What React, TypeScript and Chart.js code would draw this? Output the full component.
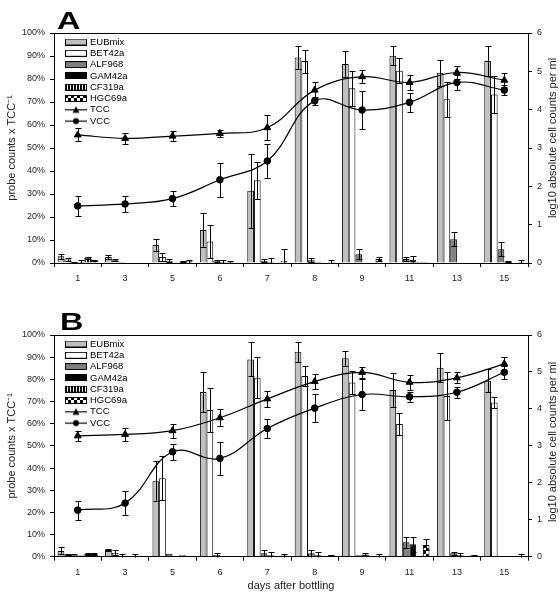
import React, { useEffect, useRef } from 'react';
import { Chart, registerables } from 'chart.js';

Chart.register(...registerables);

const FONT = '"Liberation Sans", Arial, sans-serif';

const days = ['1', '3', '5', '6', '7', '8', '9', '11', '13', '15'];
const probeNames = ['EUBmix', 'BET42a', 'ALF968', 'GAM42a', 'CF319a', 'HGC69a'];
const lineNames = ['TCC', 'VCC'];

// ---- Panel A: probe counts (% of TCC) ----
const aEUB = [2.9, 2.6, 7.8, 14.3, 31.4, 89.4, 86.5, 90.1, 82.7, 87.8];
const aEUBErr = [1.0, 0.8, 2.6, 7.3, 16.0, 5.0, 5.5, 4.2, 5.6, 6.5];
const aBET = [1.5, 1.2, 2.6, 9.4, 36.0, 87.8, 76.0, 83.6, 71.2, 73.3];
const aBETErr = [0.5, 0.5, 1.9, 7.1, 8.0, 5.0, 7.6, 5.4, 7.6, 8.0];
const aALF = [0.3, 0.4, 1.0, 1.0, 1.0, 1.2, 3.8, 1.7, 10.3, 6.0];
const aALFErr = [0.2, 0, 0.7, 0.5, 0.6, 0.8, 2.2, 0.8, 3.0, 3.0];
const aGAM = [0.4, 0.2, 0.3, 0.5, 0.5, 0.5, 0, 1.4, 0, 0.7];
const aGAMErr = [0.8, 0, 0, 0.6, 1.5, 0, 0, 1.5, 0, 0.3];
const aCF = [2.3, 0, 0.7, 0.4, 0, 0, 0, 0.5, 0, 0];
const aCFErr = [0.4, 0, 0.3, 0.4, 0, 0, 0, 0, 0, 0];
const aHGC = [1.2, 0, 0.8, 0, 1.0, 0.5, 1.7, 0.4, 0, 0.5];
const aHGCErr = [0.3, 0, 0.7, 0, 5.0, 0.6, 0.9, 0, 0, 0.7];
// log10 absolute cell counts per ml
const aTCC = [3.34, 3.25, 3.31, 3.38, 3.53, 4.51, 4.86, 4.71, 4.97, 4.77];
const aTCCErr = [0.17, 0.14, 0.14, 0.1, 0.33, 0.2, 0.17, 0.2, 0.16, 0.18];
const aVCC = [1.49, 1.54, 1.68, 2.17, 2.66, 4.23, 3.99, 4.19, 4.71, 4.51];
const aVCCErr = [0.26, 0.22, 0.2, 0.44, 0.45, 0.11, 0.49, 0.24, 0.2, 0.13];

// ---- Panel B ----
const bEUB = [2.6, 3.0, 34.0, 74.3, 89.0, 92.5, 89.5, 75.2, 85.2, 79.4];
const bEUBErr = [1.6, 0.5, 9.0, 9.2, 7.7, 4.5, 3.4, 7.5, 6.5, 5.3];
const bBET = [1.0, 1.8, 35.4, 66.2, 80.7, 81.5, 78.6, 59.8, 72.5, 69.5];
const bBETErr = [0.3, 1.2, 10.0, 9.8, 9.2, 4.7, 5.2, 5.0, 11.0, 2.5];
const bALF = [0.8, 0.3, 1.3, 0.8, 1.5, 1.5, 0.7, 6.5, 1.5, 0.3];
const bALFErr = [0.4, 1.0, 0, 1.0, 1.4, 1.5, 0, 2.5, 0.8, 0];
const bGAM = [0.5, 0, 0.3, 0, 0.7, 0.7, 1.0, 5.6, 0.7, 0];
const bGAMErr = [0, 0, 0, 0, 1.4, 1.4, 0.8, 3.4, 1.0, 0];
const bCF = [1.2, 0.2, 0.6, 0, 0, 0, 0, 0, 0.2, 0];
const bCFErr = [0.4, 0.8, 0, 0, 0, 0, 0, 0, 0, 0];
const bHGC = [1.2, 0, 0.3, 0, 0.5, 0.6, 0.4, 5.3, 0.5, 0.3];
const bHGCErr = [0.4, 0, 0, 0, 0.8, 0.3, 0.6, 2.5, 0.3, 0.8];
const bTCC = [3.27, 3.31, 3.41, 3.76, 4.27, 4.74, 4.99, 4.72, 4.84, 5.22];
const bTCCErr = [0.13, 0.17, 0.19, 0.23, 0.22, 0.2, 0.15, 0.2, 0.15, 0.18];
const bVCC = [1.26, 1.45, 2.84, 2.66, 3.47, 4.02, 4.39, 4.33, 4.45, 4.99];
const bVCCErr = [0.26, 0.33, 0.21, 0.45, 0.25, 0.38, 0.41, 0.14, 0.15, 0.17];

const leftTitle = 'probe counts x TCC\u207B\u00B9';
const rightTitle = 'log10 absolute cell counts per ml';
const xTitle = 'days after bottling';

type Panel = {
  letter: string;
  bars: number[][];
  barErr: number[][];
  tcc: number[];
  tccErr: number[];
  vcc: number[];
  vccErr: number[];
};

const panelA: Panel = {
  letter: 'A',
  bars: [aEUB, aBET, aALF, aGAM, aCF, aHGC],
  barErr: [aEUBErr, aBETErr, aALFErr, aGAMErr, aCFErr, aHGCErr],
  tcc: aTCC, tccErr: aTCCErr, vcc: aVCC, vccErr: aVCCErr,
};
const panelB: Panel = {
  letter: 'B',
  bars: [bEUB, bBET, bALF, bGAM, bCF, bHGC],
  barErr: [bEUBErr, bBETErr, bALFErr, bGAMErr, bCFErr, bHGCErr],
  tcc: bTCC, tccErr: bTCCErr, vcc: bVCC, vccErr: bVCCErr,
};

function makePatterns(ctx: CanvasRenderingContext2D) {
  const s = document.createElement('canvas');
  s.width = 3; s.height = 3;
  const sg = s.getContext('2d')!;
  sg.fillStyle = '#fff'; sg.fillRect(0, 0, 3, 3);
  sg.fillStyle = '#000'; sg.fillRect(0, 0, 2, 3);
  const c = document.createElement('canvas');
  c.width = 6; c.height = 6;
  const cg = c.getContext('2d')!;
  cg.fillStyle = '#fff'; cg.fillRect(0, 0, 6, 6);
  cg.fillStyle = '#000'; cg.fillRect(0, 0, 3, 3); cg.fillRect(3, 3, 3, 3);
  return {
    stripe: ctx.createPattern(s, 'repeat')!,
    check: ctx.createPattern(c, 'repeat')!,
    stripeSrc: s,
    checkSrc: c,
  };
}

function boxSwatch(fill: any) {
  const c = document.createElement('canvas');
  c.width = 22; c.height = 7;
  const g = c.getContext('2d')!;
  if (fill instanceof HTMLCanvasElement) g.fillStyle = g.createPattern(fill, 'repeat')!;
  else g.fillStyle = fill;
  g.fillRect(0, 0, 22, 7);
  g.strokeStyle = '#000'; g.lineWidth = 1;
  g.strokeRect(0.5, 0.5, 21, 6);
  return c;
}

function lineSwatch(kind: 'triangle' | 'circle') {
  const c = document.createElement('canvas');
  c.width = 22; c.height = 9;
  const g = c.getContext('2d')!;
  g.strokeStyle = '#000'; g.lineWidth = 1.2;
  g.beginPath(); g.moveTo(0, 4.5); g.lineTo(22, 4.5); g.stroke();
  g.fillStyle = '#000';
  g.beginPath();
  if (kind === 'triangle') { g.moveTo(11, 1); g.lineTo(14.5, 7.5); g.lineTo(7.5, 7.5); g.closePath(); }
  else g.arc(11, 4.5, 3, 0, Math.PI * 2);
  g.fill();
  return c;
}

const errorBars = {
  id: 'errorBars',
  afterDatasetsDraw(chart: any) {
    const ctx = chart.ctx;
    ctx.save();
    ctx.strokeStyle = '#000';
    ctx.lineWidth = 1;
    chart.data.datasets.forEach((ds: any, di: number) => {
      const errs = ds.errors;
      if (!errs) return;
      const meta = chart.getDatasetMeta(di);
      const scale = chart.scales[meta.yAxisID];
      meta.data.forEach((el: any, i: number) => {
        const v = ds.data[i];
        const e = errs[i];
        if (!e) return;
        const x = Math.round(el.x) + 0.5;
        const yt = Math.round(scale.getPixelForValue(v + e)) + 0.5;
        const yb = Math.round(scale.getPixelForValue(Math.max(0, v - e))) + 0.5;
        ctx.beginPath();
        ctx.moveTo(x, yt); ctx.lineTo(x, yb);
        ctx.moveTo(x - 3, yt); ctx.lineTo(x + 3, yt);
        if (v - e > 0) { ctx.moveTo(x - 3, yb); ctx.lineTo(x + 3, yb); }
        ctx.stroke();
      });
    });
    ctx.restore();
  },
};

function makeChart(canvas: HTMLCanvasElement, p: Panel, o: {
  plotTop: number; plotBottom: number; height: number; letterX: number; letterY: number;
  rightTitleY: number; showXTitle: boolean;
}) {
  const ctx = canvas.getContext('2d')!;
  const pats = makePatterns(ctx);
  const fills: any[] = ['#c0c0c0', '#ffffff', '#808080', '#000000', pats.stripe, pats.check];
  const swatchFills: any[] = ['#c0c0c0', '#ffffff', '#808080', '#000000', pats.stripeSrc, pats.checkSrc];
  const swatches = [
    ...swatchFills.map((f) => boxSwatch(f)),
    lineSwatch('triangle'),
    lineSwatch('circle'),
  ];
  const legendTexts = [...probeNames, ...lineNames];

  const barSets = probeNames.map((name, k) => ({
    type: 'bar',
    label: name,
    data: p.bars[k],
    errors: p.barErr[k],
    yAxisID: 'y',
    backgroundColor: fills[k],
    borderColor: '#000',
    borderWidth: 1,
    categoryPercentage: 0.845,
    barPercentage: 1,
    order: 1,
  }));
  const lineSets = [
    { label: 'TCC', data: p.tcc, errors: p.tccErr, style: 'triangle', radius: 4 },
    { label: 'VCC', data: p.vcc, errors: p.vccErr, style: 'circle', radius: 3.3 },
  ].map((l) => ({
    type: 'line',
    label: l.label,
    data: l.data,
    errors: l.errors,
    yAxisID: 'y1',
    borderColor: '#000',
    borderWidth: 1.2,
    pointStyle: l.style,
    pointRadius: l.radius,
    pointBackgroundColor: '#000',
    pointBorderColor: '#000',
    pointBorderWidth: 1,
    tension: 0.4,
    fill: false,
    order: 0,
  }));

  const xHeight = o.height - o.plotBottom;
  const tickFont = { size: 9, family: FONT };

  const decor = {
    id: 'decor',
    beforeDraw(chart: any) {
      const lg = chart.legend;
      const ca = chart.chartArea;
      if (lg) {
        lg.left = ca.left + 10.95;
        lg.top = ca.top + 2.45;
        lg.right = lg.left + lg.width;
        lg.bottom = ca.bottom;
      }
    },
    afterDraw(chart: any) {
      const c = chart.ctx;
      const ca = chart.chartArea;
      c.save();
      c.strokeStyle = '#000';
      c.lineWidth = 1;
      c.beginPath();
      c.moveTo(ca.left, Math.round(ca.top) + 0.5);
      c.lineTo(ca.right, Math.round(ca.top) + 0.5);
      c.stroke();
      c.fillStyle = '#000';
      c.font = `bold 24px ${FONT}`;
      c.textBaseline = 'alphabetic';
      c.textAlign = 'left';
      c.translate(o.letterX, o.letterY);
      c.scale(1.35, 1);
      c.fillText(p.letter, 0, 0);
      c.restore();
      const r = chart.scales.y1;
      c.save();
      c.fillStyle = '#222';
      c.font = `11px ${FONT}`;
      c.textAlign = 'center';
      c.textBaseline = 'middle';
      c.translate(r.right - 7, o.rightTitleY);
      c.rotate(-Math.PI / 2);
      c.fillText(rightTitle, 0, 0);
      c.restore();
    },
  };

  return new Chart(canvas, {
    type: 'bar',
    data: { labels: days, datasets: [...barSets, ...lineSets] as any },
    options: {
      responsive: false,
      devicePixelRatio: 1,
      animation: false,
      events: [],
      layout: { padding: { top: o.plotTop, left: 0, right: 0, bottom: 0 } },
      plugins: {
        tooltip: { enabled: false },
        title: { display: false },
        legend: {
          display: true,
          position: 'chartArea',
          align: 'start',
          labels: {
            usePointStyle: true,
            pointStyleWidth: 18.5,
            padding: 1.8,
            font: { size: 9.5, family: FONT },
            color: '#000',
            generateLabels: () =>
              swatches.map((img, i) => ({
                text: legendTexts[i],
                pointStyle: img,
                fillStyle: '#000',
                strokeStyle: '#000',
                fontColor: '#000',
                lineWidth: 0,
                hidden: false,
                datasetIndex: i,
              })),
          },
        } as any,
      },
      scales: {
        x: {
          type: 'category',
          offset: true,
          grid: { display: true, drawOnChartArea: false, drawTicks: true, tickLength: 4, offset: true, color: '#000' },
          border: { display: true, color: '#000', width: 1 },
          ticks: { font: tickFont, color: '#222', padding: 6.5, autoSkip: false, maxRotation: 0 },
          title: {
            display: o.showXTitle,
            text: xTitle,
            font: { size: 11, family: FONT },
            color: '#222',
            padding: { top: 0, bottom: 3 },
          },
          afterFit: (s: any) => { s.height = xHeight; },
        },
        y: {
          position: 'left',
          min: 0,
          max: 100,
          grid: { display: true, drawOnChartArea: false, drawTicks: true, tickLength: 4, color: '#000' },
          border: { display: true, color: '#000', width: 1 },
          ticks: { stepSize: 10, font: tickFont, color: '#222', padding: 5, callback: (v: any) => `${v}%` },
          title: {
            display: true,
            text: leftTitle,
            font: { size: 11, family: FONT },
            color: '#222',
            padding: { top: 5, bottom: 0 },
          },
          afterFit: (s: any) => { s.width = 54; },
        },
        y1: {
          position: 'right',
          min: 0,
          max: 6,
          grid: { display: true, drawOnChartArea: false, drawTicks: true, tickLength: 4, color: '#000' },
          border: { display: true, color: '#000', width: 1 },
          ticks: { stepSize: 1, font: tickFont, color: '#222', padding: 5 },
          afterFit: (s: any) => { s.width = 32; },
        },
      },
    } as any,
    plugins: [errorBars, decor],
  });
}

export default function App() {
  const refA = useRef<HTMLCanvasElement>(null);
  const refB = useRef<HTMLCanvasElement>(null);
  useEffect(() => {
    const ca = makeChart(refA.current!, panelA, {
      plotTop: 33, plotBottom: 263, height: 296, letterX: 57, letterY: 29, rightTitleY: 138, showXTitle: false,
    });
    const cb = makeChart(refB.current!, panelB, {
      plotTop: 39, plotBottom: 260.7, height: 300, letterX: 60, letterY: 34, rightTitleY: 146, showXTitle: true,
    });
    return () => { ca.destroy(); cb.destroy(); };
  }, []);
  return (
    <div style={{ position: 'absolute', left: 0, top: 0, width: 560, height: 596, background: '#fff' }}>
      <canvas ref={refA} width={560} height={296} style={{ display: 'block', width: 560, height: 296 }} />
      <canvas ref={refB} width={560} height={300} style={{ display: 'block', width: 560, height: 300 }} />
    </div>
  );
}
